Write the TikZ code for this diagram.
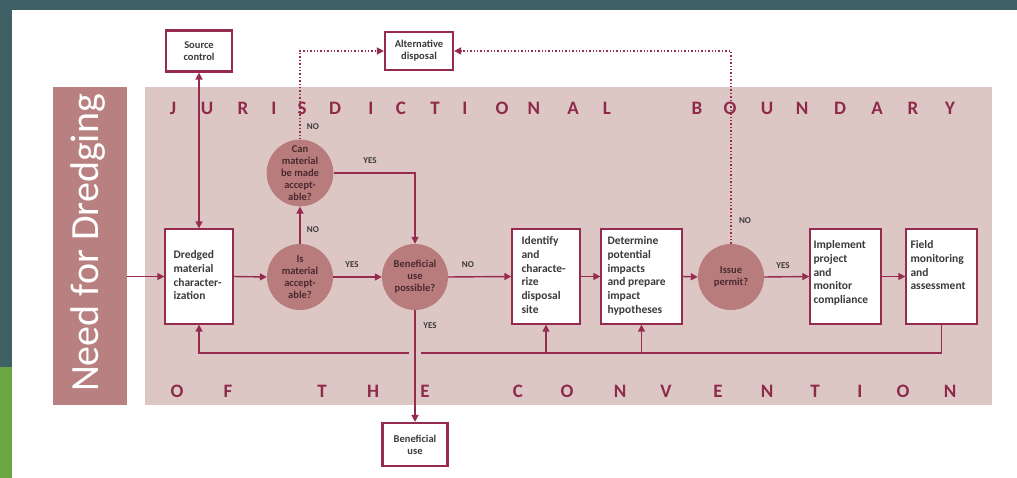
\documentclass[tikz,border=0pt]{standalone}
\usepackage{fontspec}
\setmainfont{Carlito}
\usetikzlibrary{arrows.meta}
\definecolor{frameteal}{HTML}{3F6064}
\definecolor{framegreen}{HTML}{6AA642}
\definecolor{pinkbg}{HTML}{DDC7C4}
\definecolor{rosebox}{HTML}{B88080}
\definecolor{circfill}{HTML}{B97C7C}
\definecolor{linec}{HTML}{952B4E}
\definecolor{lettc}{HTML}{8E2A4A}
\definecolor{txtgray}{HTML}{3A3A3A}
\definecolor{circtext}{HTML}{4A2A30}
\begin{document}
\begin{tikzpicture}[x=1pt,y=-1pt,
  ln/.style={draw=linec, line width=1.4pt},
  arr/.style={ln, -{Triangle[length=7pt,width=7pt]}},
  dbl/.style={ln, {Triangle[length=7pt,width=7pt]}-{Triangle[length=7pt,width=7pt]}},
  dotarr/.style={ln, dotted, -{Triangle[length=7pt,width=7pt]}},
  box/.style={draw=linec, line width=1.3pt, fill=white, inner sep=0pt},
  topbox/.style={box, line width=2.2pt, align=center, text=txtgray,
    font=\fontsize{10.5}{12}\selectfont\bfseries},
  dec/.style={circle, fill=circfill, minimum size=66pt, inner sep=0pt, align=center,
    text=circtext, font=\fontsize{10.5}{12}\selectfont\bfseries},
  btxt/.style={anchor=north west, inner sep=0pt, align=left, text=txtgray,
    font=\fontsize{11.5}{13.7}\selectfont\bfseries},
  lbl/.style={inner sep=0pt, text=txtgray, font=\fontsize{9}{10}\selectfont\bfseries},
  letter/.style={anchor=base, inner sep=0pt, text=lettc, font=\fontsize{19}{21}\selectfont\bfseries}]
\useasboundingbox (0,0) rectangle (1017,478);
\fill[white] (0,0) rectangle (1017,478);
% frame
\fill[frameteal] (0,0) rectangle (1017,10);
\fill[frameteal] (0,0) rectangle (12,367);
\fill[framegreen] (0,367) rectangle (12,478);
% regions
\fill[pinkbg] (145,87) rectangle (992,405);
\node[fill=rosebox, minimum width=74pt, minimum height=318pt, inner sep=0pt] (needbox) at (90,246) {};
\node[rotate=90, anchor=base, text=white, inner sep=0pt, font=\fontsize{40}{44}\selectfont] (needtxt) at (98,243) {Need for Dredging};
% boundary letters
\foreach \ch/\xx [count=\k] in {J/173,U/207,R/243,I/274,S/302,D/335,I/371,C/401,T/435,I/465,O/502,N/534,A/573,L/607,B/697,O/730,U/767,N/802,D/840,A/877,R/913,Y/950}
  \node[letter] (top\k) at (\xx,115) {\ch};
\foreach \ch/\xx [count=\k] in {O/177,F/228,T/322,H/373,E/425,C/518,O/567,N/620,V/666,E/718,N/767,T/815,I/860,O/903,N/950}
  \node[letter] (bot\k) at (\xx,397) {\ch};
% boxes
\node[topbox, minimum width=66pt, minimum height=41pt] (src) at (199,51) {Source\\control};
\node[topbox, minimum width=68pt, minimum height=38pt] (alt) at (419,51) {Alternative\\disposal};
\node[topbox, minimum width=65pt, minimum height=43pt] (ben) at (415,444.5) {Beneficial\\use};
\node[box, minimum width=68pt, minimum height=95pt] (dmc) at (199,276.5) {};
\node[box, minimum width=68pt, minimum height=95pt] (idb) at (546,276.5) {};
\node[box, minimum width=81pt, minimum height=95pt] (det) at (641.5,276.5) {};
\node[box, minimum width=71pt, minimum height=95pt] (imp) at (845.5,276.5) {};
\node[box, minimum width=71pt, minimum height=95pt] (fld) at (941.5,276.5) {};
\node[btxt] (dmct) at ([shift={(9,22)}]dmc.north west) {Dredged\\material\\character-\\ization};
\node[btxt] (idbt) at ([shift={(10,8)}]idb.north west) {Identify\\and\\characte-\\rize\\disposal\\site};
\node[btxt] (dett) at ([shift={(7,8)}]det.north west) {Determine\\potential\\impacts\\and prepare\\impact\\hypotheses};
\node[btxt] (impt) at ([shift={(4,12)}]imp.north west) {Implement\\project\\and\\monitor\\compliance};
\node[btxt] (fldt) at ([shift={(5,12)}]fld.north west) {Field\\monitoring\\and\\assessment};
% decisions
\node[dec] (c1) at (300,277) {Is\\material\\accept-\\able?};
\node[dec] (c2) at (300,173) {Can\\material\\be made\\accept-\\able?};
\node[dec] (c3) at (415,277) {Beneficial\\use\\possible?};
\node[dec] (c4) at (731,277) {Issue\\permit?};
% connectors
\draw[arr] (needbox.east |- dmc.west) -- (dmc.west);
\draw[dbl] (src.south) -- (dmc.north);
\draw[arr] (dmc.east) -- (c1.west);
\draw[arr] (c1.north) -- (c2.south);
\draw[arr] (c1.east) -- (c3.west);
\draw[arr] (c2.east) -- (c3.north |- c2.east) -- (c3.north);
\draw[dotarr] (c2.north) -- (c2.north |- alt.west) -- (alt.west);
\draw[dotarr] (c4.north) -- (c4.north |- alt.east) -- (alt.east);
\draw[arr] (c3.east) -- (idb.west);
\draw[arr] (c3.south) -- (ben.north);
\draw[arr] (idb.east) -- (det.west);
\draw[arr] (det.east) -- (c4.west);
\draw[arr] (c4.east) -- (imp.west);
\draw[arr] (imp.east) -- (fld.west);
% feedback loop
\coordinate (fby) at (0,353);
\coordinate (gapR) at (421,353);
\coordinate (gapL) at (409,353);
\draw[ln] (fld.south) -- (fld.south |- fby) -- (gapR);
\draw[arr] (gapL) -- (dmc.south |- fby) -- (dmc.south);
\draw[arr] (idb.south |- fby) -- (idb.south);
\draw[arr] (det.south |- fby) -- (det.south);
% labels
\node[lbl] (l1) at (313,127) {NO};
\node[lbl] (l2) at (370,161) {YES};
\node[lbl] (l3) at (313,230) {NO};
\node[lbl] (l4) at (352,265) {YES};
\node[lbl] (l5) at (468,265) {NO};
\node[lbl] (l6) at (430,326) {YES};
\node[lbl] (l7) at (745,221) {NO};
\node[lbl] (l8) at (783,266) {YES};
\end{tikzpicture}
\end{document}
